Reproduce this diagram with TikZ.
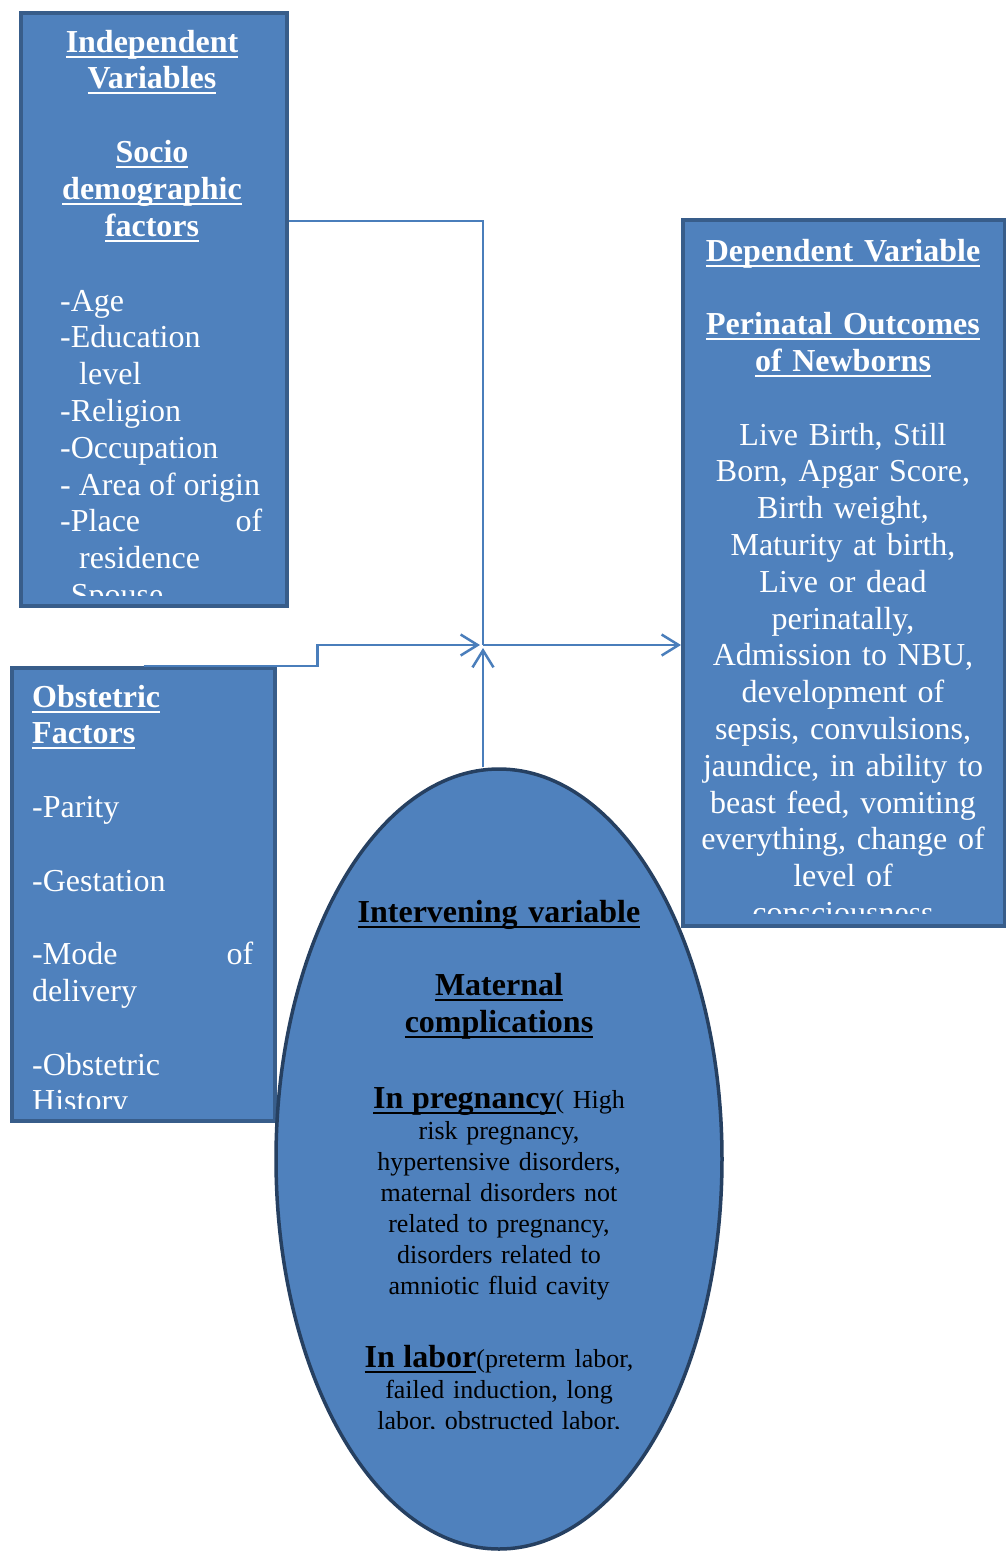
\documentclass[tikz,border=0pt]{standalone}
\usepackage{fontspec}
\setmainfont{Liberation Serif}
\usetikzlibrary{shapes.geometric,arrows.meta}
\definecolor{boxfill}{RGB}{79,129,189}
\definecolor{boxline}{RGB}{56,93,138}
\definecolor{ovalline}{RGB}{38,64,97}
\definecolor{linkblue}{RGB}{74,126,187}
\newcommand{\undl}[1]{\leavevmode{\setbox0=\hbox{#1}\rlap{\rule[-5.5pt]{\wd0}{2pt}}\box0}}

\begin{document}
\begin{tikzpicture}[x=1pt,y=-1pt,
  varbox/.style={draw=boxline,fill=boxfill,line width=4pt,rectangle,inner sep=0pt,anchor=north west},
  big/.style={font=\fontsize{32}{36.8}\selectfont,inner sep=0pt},
  small/.style={font=\fontsize{26}{31}\selectfont,inner sep=0pt},
  link/.style={draw=linkblue,line width=2.5pt},
  >={Straight Barb[length=17pt,width=21pt]}]
\path[fill=white,use as bounding box] (0,0) rectangle (1005,1551);
\node[varbox,minimum width=266pt,minimum height=593pt] (indep) at (19,11) {};
\node[varbox,minimum width=263pt,minimum height=453pt] (obst) at (10,666) {};
\node[varbox,minimum width=322pt,minimum height=706pt] (dep) at (681,218) {};
\node[ellipse,draw=ovalline,fill=boxfill,line width=3.5pt,minimum width=446pt,minimum height=780pt,inner sep=0pt] (interv) at (499,1159) {};
% texts, cut off at the lower edge of each shape
\begin{scope}
\clip (indep.north west) rectangle ([yshift=13pt]indep.south east);
\node[big,text=white,text width=260pt,align=center,anchor=base] (indepHead) at (152,52) {\bfseries\undl{Independent}\\\undl{Variables}\\[36.8pt]\undl{Socio}\\\undl{demographic}\\\undl{factors}};
\node[big,text=white,text width=222pt,align=flush left,anchor=base west] (indepList) at (60,311) {-Age\\-Education\\\hspace*{19pt}level\\-Religion\\-Occupation\\- Area of origin\\\makebox[202pt][l]{-Place\hfill of}\\\hspace*{19pt}residence\\-Spouse};
\end{scope}
\begin{scope}
\clip (obst.north west) rectangle ([yshift=15pt]obst.south east);
\node[big,text=white,text width=221pt,align=flush left,anchor=base west] (obstList) at (32,707) {{\bfseries\undl{Obstetric}\\\undl{Factors}}\\[36.8pt]-Parity\\[36.8pt]-Gestation\\[36.8pt]-Mode\hfill of\\delivery\\[36.8pt]-Obstetric\\History};
\end{scope}
\begin{scope}
\clip (dep.north west) rectangle ([yshift=15pt]dep.south east);
\node[big,text=white,text width=316pt,align=center,anchor=base] (depText) at (843,261) {{\bfseries\undl{Dependent Variable}\\[36.8pt]\undl{Perinatal Outcomes}\\\undl{of Newborns}}\\[36.8pt]Live Birth, Still\\Born, Apgar Score,\\Birth weight,\\Maturity at birth,\\Live or dead\\perinatally,\\Admission to NBU,\\development of\\sepsis, convulsions,\\jaundice, in ability to\\beast feed, vomiting\\everything, change of\\level of\\consciousness};
\end{scope}
\begin{scope}
\clip (interv.west |- interv.north) rectangle ([yshift=122pt]interv.south -| interv.east);
\node[big,text width=300pt,align=center,anchor=base] (intervHead) at (499,922) {\bfseries\undl{Intervening variable}\\[36.8pt]\undl{Maternal}\\\undl{complications}};
\node[small,text width=300pt,align=center,anchor=base] (pregText) at (499,1108) {{\fontsize{32}{36.8}\selectfont\bfseries\undl{In pregnancy}}( High\\risk pregnancy,\\hypertensive disorders,\\maternal disorders not\\related to pregnancy,\\disorders related to\\amniotic fluid cavity};
\node[small,text width=300pt,align=center,anchor=base] (laborText) at (499,1367) {{\fontsize{32}{36.8}\selectfont\bfseries\undl{In labor}}(preterm labor,\\failed induction, long\\labor, obstructed labor,};
\end{scope}
% connectors
\coordinate (junc) at (483,645);
\draw[link] ([yshift=-210pt]indep.north east) -| (junc);
\draw[link,->] (obst.north) -- ++(174,0) |- ([xshift=-3pt]junc);
\draw[link,->] (interv.north -| junc) -- ([yshift=-3pt]junc);
\draw[link,->] (junc) -- (dep.west |- junc);
\end{tikzpicture}
\end{document}
